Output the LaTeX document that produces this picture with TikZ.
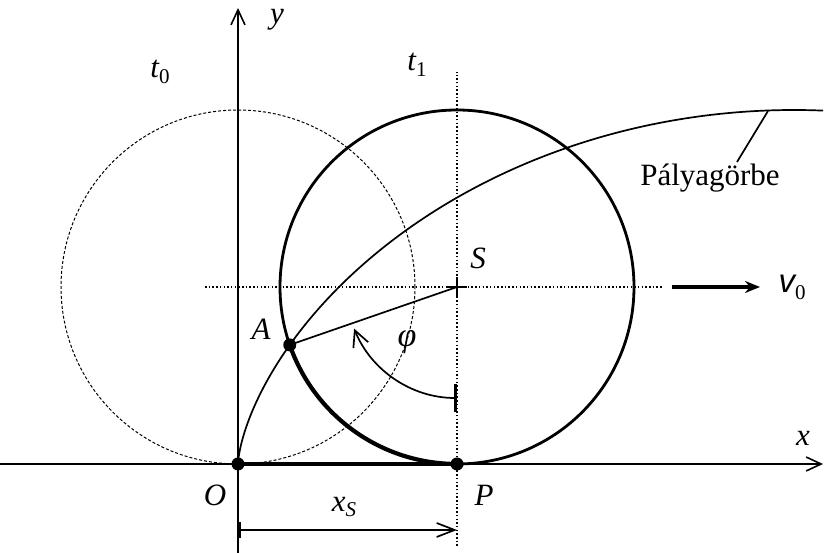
\documentclass[tikz,border=0pt]{standalone}
\usepackage{fontspec}
\setmainfont{Liberation Serif}
\newfontfamily\velfont{Liberation Sans}
\usetikzlibrary{arrows.meta, positioning, calc}
\newcommand{\lowidx}[1]{\raisebox{-0.4ex}{\fontsize{21}{22}\selectfont #1}}

\begin{document}
\begin{tikzpicture}[x=1pt, y=1pt,
    axis/.style={line width=1.6pt, -{Straight Barb[length=15pt, width=14pt]}},
    wheel/.style={line width=2.8pt},
    ghost/.style={line width=1pt, dash pattern=on 3pt off 2pt},
    guide/.style={line width=1.4pt, dash pattern=on 1.5pt off 2.2pt},
    thin/.style={line width=1.7pt},
    heavy/.style={line width=4.2pt},
    dot/.style={circle, fill=black, minimum size=13pt, inner sep=0pt},
    lbl/.style={font=\fontsize{31}{34}\selectfont\itshape, inner sep=0pt}
  ]
  \useasboundingbox (0,0) rectangle (824,553);
  \coordinate (O) at (238,89);
  \coordinate (P) at (457,89);
  \coordinate (S) at (457,266);
  \coordinate (A) at ($(S)+(199.1:177)$);
  \coordinate (yb) at (238,0);
  \coordinate (yt) at (238,545);
  \coordinate (xl) at (0,89);
  \coordinate (xr) at (823,89);
  \coordinate (hl) at (205,266);
  \coordinate (hr) at (663,266);
  \coordinate (vt) at (457,481);
  \coordinate (vb) at (457,7);
  \coordinate (tip) at (768,442);
  % guides and old position
  \draw[guide] (hl) -- (hr);
  \draw[guide] (vb) -- (vt);
  \draw[ghost] (238,266) circle[radius=177];
  % axes
  \draw[axis] (yb) -- (yt);
  \draw[axis] (xl) -- (xr);
  % rolling wheel
  \draw[wheel] (S) circle[radius=177];
  \draw[heavy] (A) arc[start angle=199.1, end angle=270, radius=177];
  \draw[heavy] (O) -- (P);
  \draw[thin] (S) -- (A);
  \draw[thin] ($(S)+(-10,0)$) -- ($(S)+(10,0)$);
  \draw[thin] ($(S)+(0,-10)$) -- ($(S)+(0,10)$);
  \draw[thin, {Bar[width=28pt, line width=3pt]}-{Straight Barb[length=16pt, width=16pt]}]
    ($(S)+(0,-111)$) arc[start angle=270, end angle=202, radius=111];
  % path curve
  \draw[thin] plot[smooth, samples=90, domain=0:3.225, variable=\t]
    ({238+177*(\t-sin(\t r))}, {89+177*(1-cos(\t r))});
  \node[dot] (nO) at (O) {};
  \node[dot] (nP) at (P) {};
  \node[dot] (nA) at (A) {};
  % velocity and displacement
  \coordinate (v1) at (672,266);
  \coordinate (v2) at (760,266);
  \draw[line width=3.8pt, -{Stealth[length=15pt, width=12pt]}] (v1) -- (v2);
  \coordinate (s1) at (238,23);
  \coordinate (s2) at (457,23);
  \draw[thin, {Bar[width=16pt, line width=2.5pt]}-{Straight Barb[length=18pt, width=14pt]}] (s1) -- (s2);
  % labels
  \node[lbl] (ly) at (277,533) {y};
  \node[lbl] (lx) at (803,115) {x};
  \node[lbl] (lt0) at (160,481) {t\lowidx{\upshape 0}};
  \node[lbl] (lt1) at (417,488) {t\lowidx{\upshape 1}};
  \node[lbl] (lS) at (478,295) {S};
  \node[lbl] (lA) at (261,224) {A};
  \node[lbl, font=\fontsize{34}{36}\selectfont\itshape] (lphi) at (407,211) {φ};
  \node[lbl] (lO) at (215,58) {O};
  \node[lbl] (lP) at (484,58) {P};
  \node[lbl] (lxs) at (344,46) {x\lowidx{S}};
  \node[lbl, font=\fontsize{33}{34}\velfont\itshape] (lv) at (792,266) {v\lowidx{\rmfamily\upshape 0}};
  \node[lbl, font=\fontsize{31}{34}\selectfont\upshape] (lcurve) at (710,375) {Pályagörbe};
  \draw[thin] (737,391) -- (tip);
\end{tikzpicture}
\end{document}
